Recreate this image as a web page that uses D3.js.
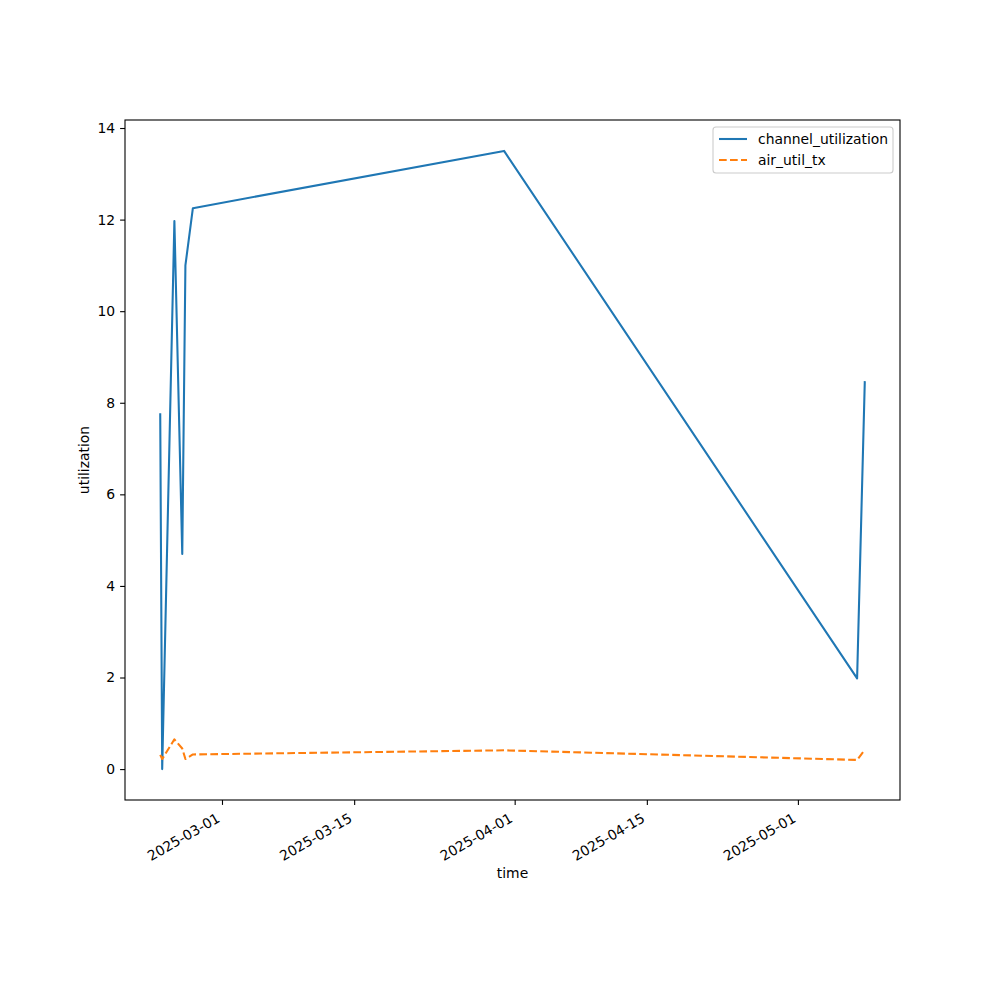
<!DOCTYPE html>
<html>
<head>
<meta charset="utf-8">
<script src="https://cdn.jsdelivr.net/npm/d3@7"></script>
<style>
  html, body { margin: 0; padding: 0; background: #fff; }
  svg text { font-family: "DejaVu Sans", sans-serif; }
</style>
</head>
<body>
<svg id="chart" width="1000" height="1000"></svg>
<script>
// ---- data ----
const times = [
  "2025-02-22T11:00:00Z",
  "2025-02-22T16:00:00Z",
  "2025-02-23T23:00:00Z",
  "2025-02-24T19:00:00Z",
  "2025-02-25T03:00:00Z",
  "2025-02-25T22:00:00Z",
  "2025-03-30T21:00:00Z",
  "2025-05-07T06:30:00Z",
  "2025-05-08T02:00:00Z"
];
const channelUtilization = [7.75, 0.0, 11.97, 4.7, 11.0, 12.25, 13.5, 1.98, 8.45];
const airUtilTx = [0.31, 0.22, 0.65, 0.45, 0.22, 0.32, 0.41, 0.2, 0.42];
const seriesNames = ["channel_utilization", "air_util_tx"];
const xTickDates = ["2025-03-01", "2025-03-15", "2025-04-01", "2025-04-15", "2025-05-01"];
const yTicks = [0, 2, 4, 6, 8, 10, 12, 14];

// ---- layout ----
const svg = d3.select("#chart");
const L = 125, R = 900, T = 120, B = 800;
const fs = 13.9;
const colors = ["#1f77b4", "#ff7f0e"];

const parsed = times.map(t => new Date(t));
const ext = d3.extent(parsed);
const span = ext[1] - ext[0];
const x = d3.scaleUtc()
  .domain([new Date(+ext[0] - span * 0.05), new Date(+ext[1] + span * 0.05)])
  .range([L, R]);

const allY = channelUtilization.concat(airUtilTx);
const yMin = d3.min(allY), yMax = d3.max(allY);
const yPad = (yMax - yMin) * 0.05;
const y = d3.scaleLinear().domain([yMin - yPad, yMax + yPad]).range([B, T]);

// lines
const series = [channelUtilization, airUtilTx];
series.forEach((vals, i) => {
  const line = d3.line().x((d, j) => x(parsed[j])).y(d => y(d));
  svg.append("path")
    .attr("d", line(vals))
    .attr("fill", "none")
    .attr("stroke", colors[i])
    .attr("stroke-width", 2.08)
    .attr("stroke-linejoin", "round")
    .attr("stroke-linecap", i === 1 ? "butt" : "square")
    .attr("stroke-dasharray", i === 1 ? "7.7,3.3" : null);
});

// frame
svg.append("rect")
  .attr("x", L).attr("y", T).attr("width", R - L).attr("height", B - T)
  .attr("fill", "none").attr("stroke", "#000").attr("stroke-width", 1.1);

// x axis
const xAxis = d3.axisBottom(x)
  .tickValues(xTickDates.map(d => new Date(d + "T00:00:00Z")))
  .tickFormat(d3.utcFormat("%Y-%m-%d"))
  .tickSize(4.9).tickSizeOuter(0);
const gx = svg.append("g").attr("transform", `translate(0,${B})`).call(xAxis);
gx.select(".domain").remove();
gx.selectAll(".tick line").attr("stroke", "#000").attr("stroke-width", 1.1);
gx.selectAll(".tick text")
  .attr("font-size", fs)
  .attr("fill", "#000")
  .attr("text-anchor", "end")
  .attr("dy", null)
  .attr("y", 0)
  .attr("transform", "translate(-1.5,21) rotate(-30)");

// y axis
const yAxis = d3.axisLeft(y).tickValues(yTicks).tickFormat(d3.format("d")).tickSize(4.9).tickPadding(4.9);
const gy = svg.append("g").attr("transform", `translate(${L},0)`).call(yAxis);
gy.select(".domain").remove();
gy.selectAll(".tick line").attr("stroke", "#000").attr("stroke-width", 1.1);
gy.selectAll(".tick text").attr("font-size", fs).attr("fill", "#000");

// axis labels
svg.append("text").attr("x", (L + R) / 2).attr("y", 878)
  .attr("text-anchor", "middle").attr("font-size", fs).text("time");
svg.append("text")
  .attr("transform", `translate(89,${(T + B) / 2}) rotate(-90)`)
  .attr("text-anchor", "middle").attr("font-size", fs).text("utilization");

// legend
const lg = svg.append("g");
lg.append("rect")
  .attr("x", 713).attr("y", 127).attr("width", 180).attr("height", 46)
  .attr("rx", 3).attr("fill", "#fff").attr("fill-opacity", 0.8)
  .attr("stroke", "#cccccc").attr("stroke-width", 1.1);
seriesNames.forEach((name, i) => {
  const yy = 139 + i * 21;
  lg.append("line")
    .attr("x1", 719).attr("x2", 747).attr("y1", yy).attr("y2", yy)
    .attr("stroke", colors[i]).attr("stroke-width", 2.08)
    .attr("stroke-dasharray", i === 1 ? "7.7,3.3" : null);
  lg.append("text").attr("x", 758).attr("y", yy + 5)
    .attr("font-size", fs).attr("fill", "#000").text(name);
});
</script>
</body>
</html>
